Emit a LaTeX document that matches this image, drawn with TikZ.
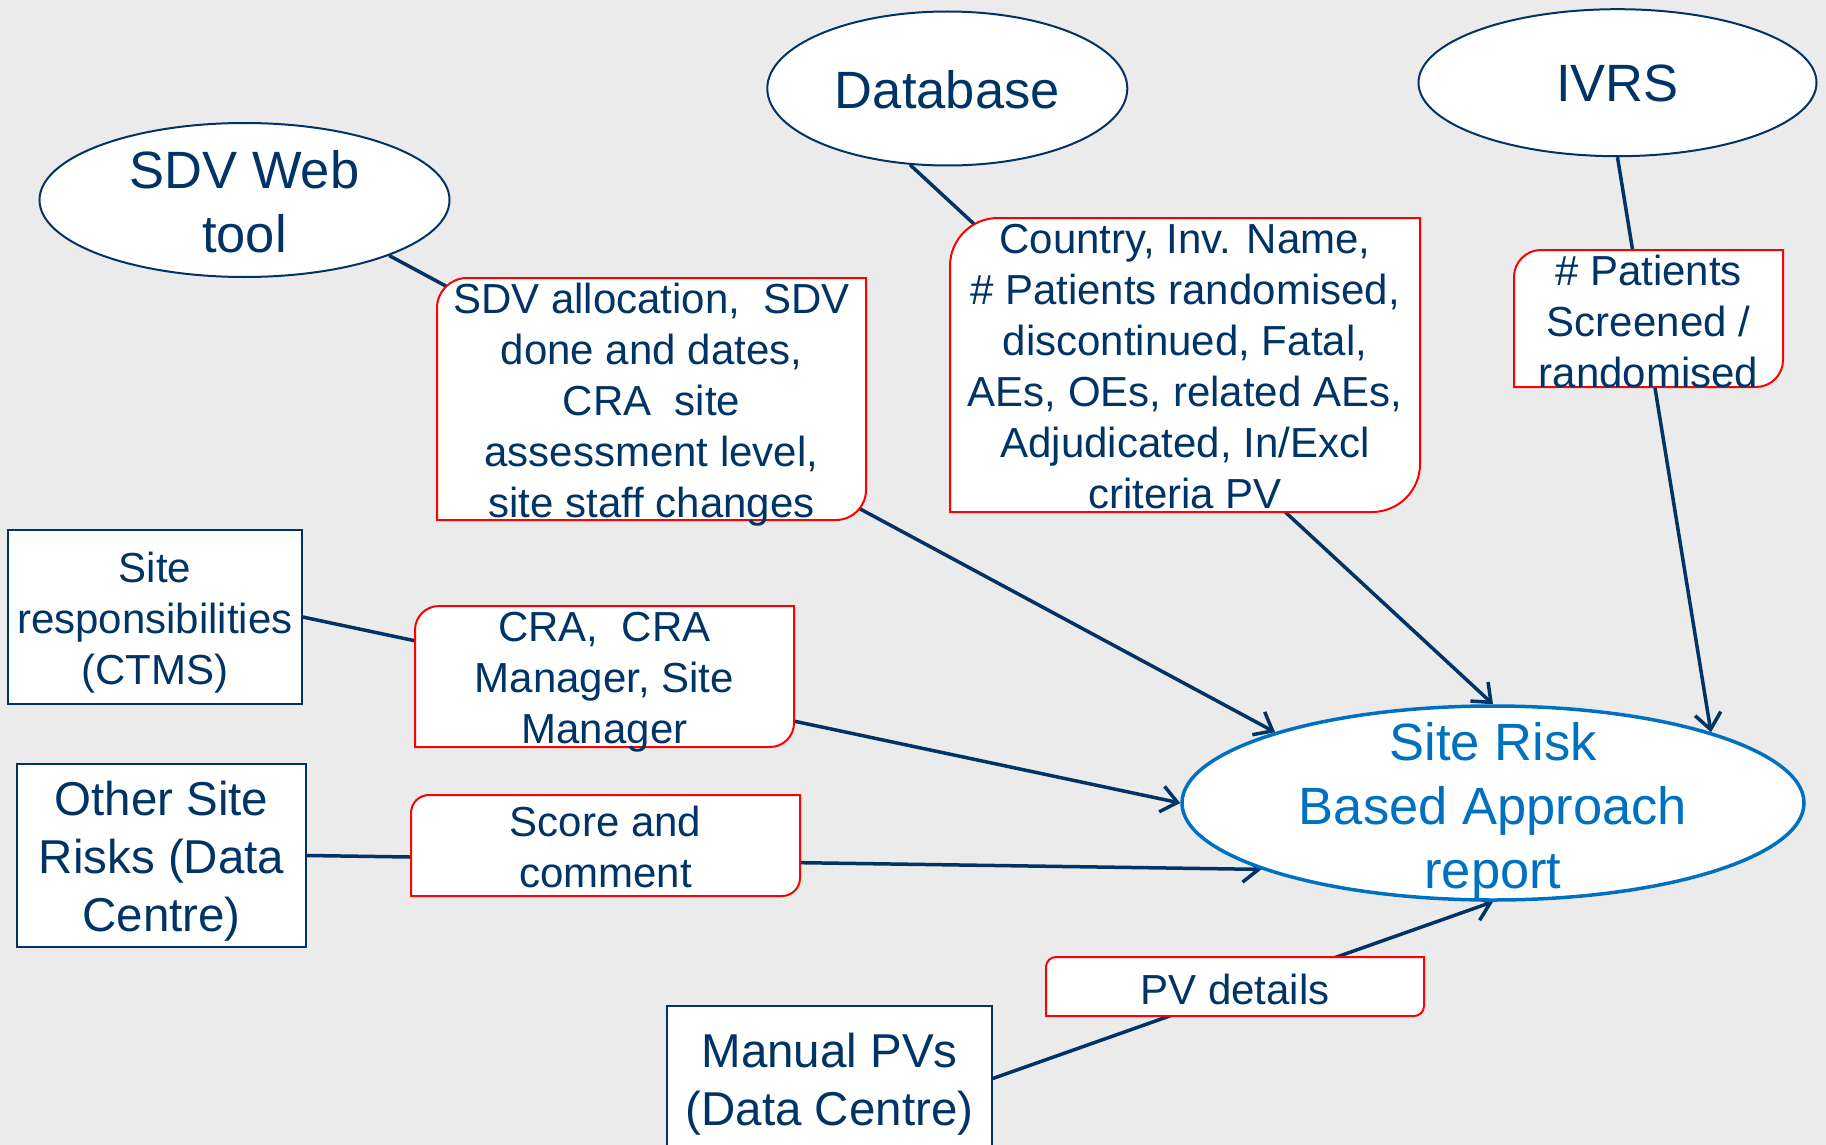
\documentclass[tikz,border=0pt]{standalone}
\usepackage{fontspec}
\setmainfont{Liberation Sans}
\usetikzlibrary{shapes.geometric,arrows.meta}
\definecolor{navy}{RGB}{0,51,102}
\definecolor{bgc}{RGB}{235,235,235}
\definecolor{srblue}{RGB}{0,112,192}
\pgfdeclarelayer{bg}
\pgfdeclarelayer{lines}
\pgfsetlayers{bg,lines,main}
\tikzset{
  ell/.style={ellipse, draw=navy, line width=1pt, fill=white, inner sep=0pt},
  rbox/.style={rectangle, draw=navy, line width=0.75pt, fill=white, inner sep=0pt},
  area/.style={rectangle, inner sep=0pt, outer sep=0pt, draw=none},
  redframe/.style={draw=red, line width=1pt, fill=white},
  lbl/.style={align=center, text=navy, inner sep=0pt, font=\fontsize{21pt}{25.5pt}\selectfont},
  bigtxt/.style={align=center, text=navy, inner sep=0pt, font=\fontsize{26.25pt}{32pt}\selectfont},
  midtxt/.style={align=center, text=navy, inner sep=0pt, font=\fontsize{23.75pt}{29pt}\selectfont},
  conn/.style={draw=navy, line width=1.75pt},
  arr/.style={conn, -{Straight Barb[length=8pt,width=13pt]}},
}
% #1 name, #2 x, #3 y, #4 width px, #5 height px, #6 radius px, #7 text y offset px, #8 text
\newcommand\rdbox[8]{%
  \node[area, minimum width=#4*0.5pt, minimum height=#5*0.5pt] (#1) at (#2,#3) {};
  \path[redframe] ([xshift=#6*0.5pt]#1.north west) -- (#1.north east)
     -- ([yshift=#6*0.5pt]#1.south east) arc[start angle=0,end angle=-90,radius=#6*0.5pt]
     -- (#1.south west) -- ([yshift=-#6*0.5pt]#1.north west)
     arc[start angle=180,end angle=90,radius=#6*0.5pt] -- cycle;
  \node[lbl] (#1T) at (#2,{#3+#7}) {#8};
}
\begin{document}
\begin{tikzpicture}[x=0.5pt,y=-0.5pt]
\begin{pgfonlayer}{bg}
  \fill[bgc] (0,0) rectangle (1826,1145);
\end{pgfonlayer}
\useasboundingbox (0,0) rectangle (1826,1145);
\clip (0,0) rectangle (1826,1145);

% ellipses
\node[ell, minimum width=410*0.5pt, minimum height=154*0.5pt] (sdv) at (244.5,200) {};
\node[bigtxt] (sdvT) at (244.5,201.5) {SDV Web\\tool};
\node[ell, minimum width=360*0.5pt, minimum height=154*0.5pt] (db) at (947.3,88.5) {};
\node[bigtxt] (dbT) at (947.3,90) {Database};
\node[ell, minimum width=398*0.5pt, minimum height=147*0.5pt] (ivrs) at (1617.5,82.7) {};
\node[bigtxt] (ivrsT) at (1617.5,83.2) {IVRS};
\node[ell, draw=srblue, line width=1.75pt, minimum width=622*0.5pt, minimum height=194*0.5pt] (srba) at (1493,803) {};
\node[bigtxt, text=srblue] (srbaT) at (1493,811) {Site Risk\\Based Approach\\report};

% rectangles
\node[rbox, minimum width=294*0.5pt, minimum height=174*0.5pt] (rs) at (155,617) {};
\node[lbl] (rsT) at (155,623) {Site\\responsibilities\\(CTMS)};
\node[rbox, minimum width=289*0.5pt, minimum height=183*0.5pt] (osr) at (161.5,855.5) {};
\node[midtxt] (osrT) at (161.5,861.5) {Other Site\\Risks (Data\\Centre)};
\node[rbox, minimum width=325*0.5pt, minimum height=145*0.5pt] (mpv) at (829.5,1078.5) {};
\node[midtxt] (mpvT) at (829.5,1084.5) {Manual PVs\\(Data Centre)};

% connectors
\begin{pgfonlayer}{lines}
  \draw[arr] (sdv.339.3) -- (srba.162.5);
  \draw[arr] (db.244) -- (srba.north);
  \draw[arr] (ivrs.south) -- (srba.18.5);
  \draw[arr] (rs.east) -- (srba.west);
  \draw[arr] (osr.east) -- (srba.196.9);
  \draw[arr] (mpv.east) -- (srba.south);
\end{pgfonlayer}

% label boxes
\rdbox{lsdv}{651.5}{399}{429}{242}{30}{6}{SDV allocation,\ \ SDV\\done and dates,\\CRA\ \ site\\assessment level,\\site staff changes}
\rdbox{lcty}{1185}{365}{470}{294}{48}{1.5}{Country, Inv. Name,\\\# Patients randomised,\\discontinued, Fatal,\\AEs, OEs, related AEs,\\Adjudicated, In/Excl\\criteria PV}
\rdbox{lpat}{1648.5}{318.5}{269}{137}{27}{2.5}{\# Patients\\Screened /\\randomised}
\rdbox{lcra}{604.5}{676.5}{379}{141}{24}{6}{CRA,\ \ CRA\\Manager, Site\\Manager}
\rdbox{lsc}{605.5}{845.5}{389}{101}{18}{1.5}{Score and\\comment}
\rdbox{lpv}{1235}{986.5}{378}{59}{10}{2.5}{PV details}
\end{tikzpicture}
\end{document}
